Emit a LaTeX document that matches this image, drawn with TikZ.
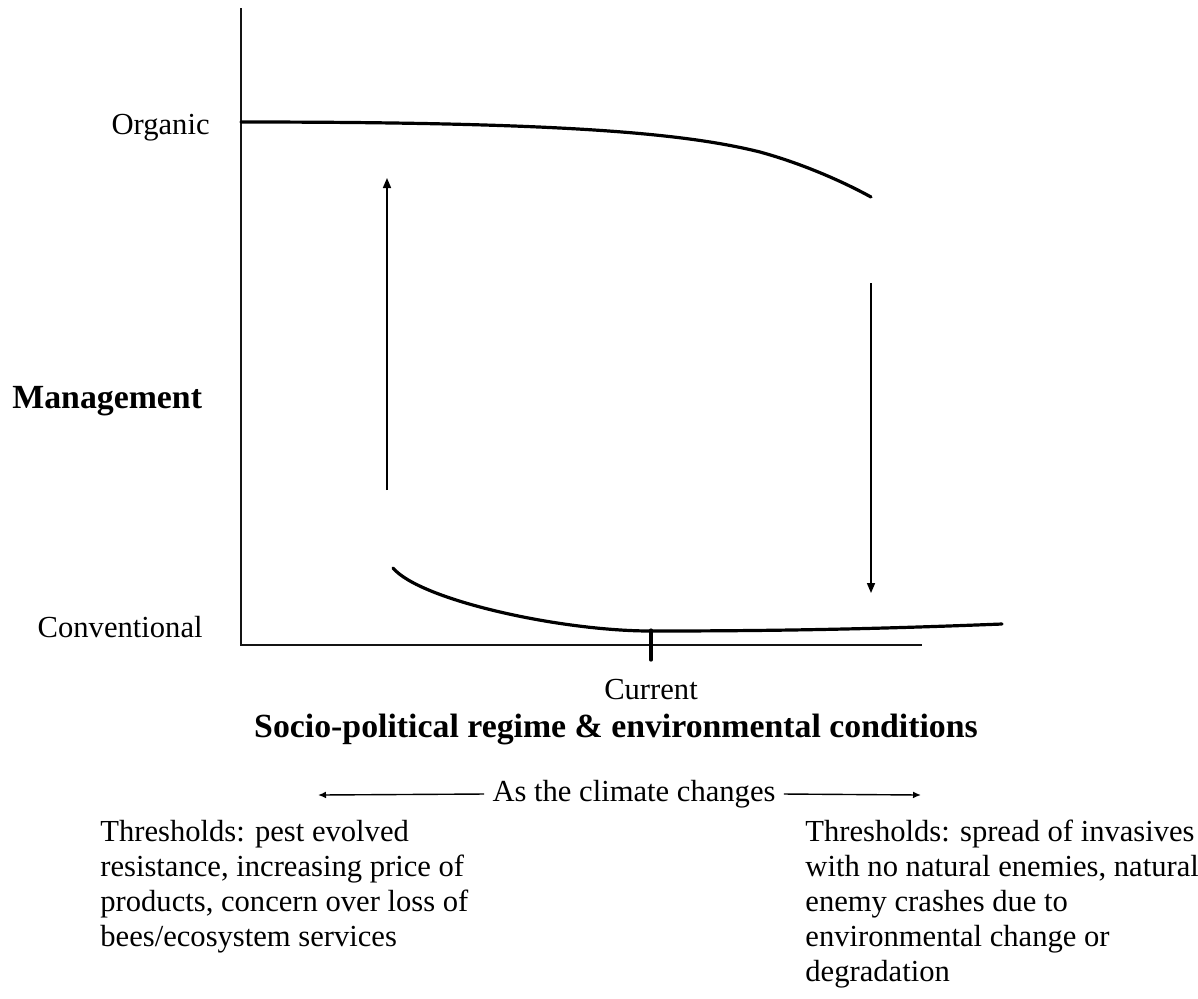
\documentclass[tikz,border=0pt]{standalone}
\usepackage{fontspec}
\setmainfont{Liberation Serif}
\usepackage{tikz}
\usetikzlibrary{arrows.meta,positioning,calc}
\definecolor{gaxis}{RGB}{20,20,20}
\tikzset{
  axis/.style={draw=gaxis, line width=0.8pt},
  regime/.style={draw=black, line width=1.6pt, line cap=round},
  arr/.style={-{Triangle[length=5pt,width=4pt]}, draw=black, line width=0.8pt},
  sarr/.style={-{Latex[length=4pt,width=3.4pt]}, draw=black, line width=0.7pt},
  lbl/.style={font=\fontsize{15.3}{17.5}\selectfont, inner sep=0pt},
  blbl/.style={font=\fontsize{16.9}{19}\selectfont\bfseries, inner sep=0pt},
  note/.style={lbl, align=left, anchor=north west}
}
\begin{document}
\begin{tikzpicture}[x=0.5pt, y=-0.5pt]
  \useasboundingbox (0,0) rectangle (1198,998);
  % axes
  \coordinate (top) at (241,8);
  \coordinate (org) at (241,645);
  \coordinate (xend) at (922,645);
  \draw[axis] (top) -- (org) -- (xend);
  \coordinate (tkup) at (651,630);
  \coordinate (tkdn) at (651,660);
  \draw[regime] (tkup) -- (tkdn);
  % regimes
  \draw[regime] (241,122) .. controls (550,122) and (680,132) .. (760,152)
    .. controls (800,163) and (840,180) .. (871,197);
  \draw[regime] (393,568) .. controls (420,600) and (560,631) .. (651,631)
    .. controls (800,631) and (900,628) .. (1002,624);
  % switching
  \coordinate (upa) at (387,490);
  \coordinate (upb) at (387,178);
  \coordinate (dna) at (871,283);
  \coordinate (dnb) at (871,593);
  \draw[arr] (upa) -- (upb);
  \draw[arr] (dna) -- (dnb);
  % labels
  \node[lbl, anchor=east] (organic) at (210,128) {Organic};
  \node[lbl, anchor=east] (conv) at (203,627) {Conventional};
  \node[blbl, anchor=west] (mgmt) at (12,401) {Management};
  \node[lbl] (current) at (651,690) {Current};
  \node[blbl] (regime) at (616,729) {Socio-political regime \& environmental conditions};
  \node[lbl, inner sep=4pt] (climate) at (634,794) {As the climate changes};
  \coordinate (cl) at (318,795);
  \coordinate (cr) at (921,795);
  \draw[sarr] (climate.west) -- (cl);
  \draw[sarr] (climate.east) -- (cr);
  \node[note] (left) at (100,820)
    {Thresholds: pest evolved\\resistance, increasing price of\\products, concern over loss of\\bees/ecosystem services};
  \node[note] (right) at (805,820)
    {Thresholds: spread of invasives\\with no natural enemies, natural\\enemy crashes due to\\environmental change or\\degradation};
\end{tikzpicture}
\end{document}
